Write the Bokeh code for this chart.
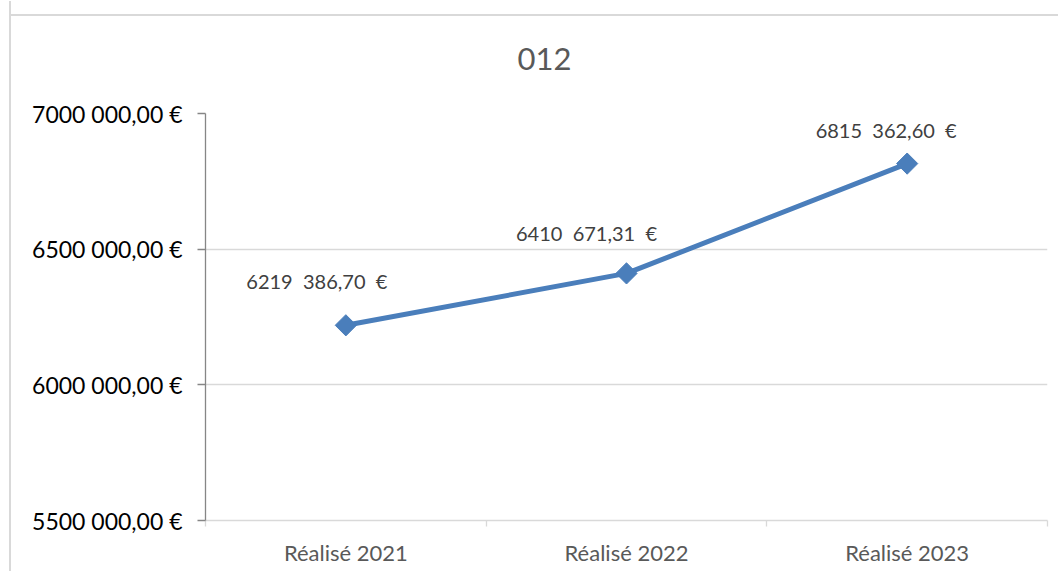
import math
from bokeh.plotting import figure
from bokeh.models import ColumnDataSource, FixedTicker, Range1d
from bokeh.embed import file_html
from bokeh.resources import INLINE
from bokeh.core.properties import value

# ---- data ----
categories = ["Réalisé 2021", "Réalisé 2022", "Réalisé 2023"]
values = [6219386.70, 6410671.31, 6815362.60]
y_ticks = [5500000, 6000000, 6500000, 7000000]
y_tick_labels = ["5500 000,00 €", "6000 000,00 €", "6500 000,00 €", "7000 000,00 €"]
title_text = "012"

NB = "\u00a0"

def fmt_label(v):
    s = f"{v:,.2f}"
    ip, dp = s.split(".")
    parts = ip.split(",")
    head = "".join(parts[:-1])
    return f"{head}{NB}{NB}{parts[-1]},{dp}{NB}{NB}€"

labels = [fmt_label(v) for v in values]
x_pos = [i + 0.5 for i in range(len(categories))]
# label screen offsets (style)
lab_dx = [-29, -40, -21]
lab_dy = [-44, -40, -34]

FONT = "Lato"
BLUE = "#4a7ebb"

p = figure(width=1049, height=570, output_backend="svg", toolbar_location=None,
           x_range=Range1d(0, len(categories)), y_range=Range1d(y_ticks[0], y_ticks[-1]),
           min_border_left=194, min_border_right=13, min_border_top=112, min_border_bottom=51,
           title=title_text)
p.outline_line_color = None
p.background_fill_color = "white"
p.border_fill_alpha = 0
p.styles = {"border-left": "2px solid #d9d9d9",
            "background": "#ffffff linear-gradient(#d9d9d9, #d9d9d9) 0px 13px / 100% 2px no-repeat",
            "margin-top": "1px", "margin-left": "9px"}

p.title.align = "left"
p.title.vertical_align = "top"
p.title.offset = 312
p.title.standoff = 84
p.title.text_font = FONT
p.title.text_font_style = "normal"
p.title.text_font_size = "31px"
p.title.text_color = "#595959"

# grid
p.xgrid.grid_line_color = None
p.ygrid.grid_line_color = "#d9d9d9"
p.ygrid.grid_line_width = 1.3
p.ygrid.ticker = FixedTicker(ticks=y_ticks)

# y axis
p.yaxis.ticker = FixedTicker(ticks=y_ticks)
p.yaxis.major_label_overrides = {t: l for t, l in zip(y_ticks, y_tick_labels)}
p.yaxis.axis_line_color = "#868686"
p.yaxis.axis_line_width = 1.3
p.yaxis.major_tick_line_color = "#868686"
p.yaxis.major_tick_line_width = 1.3
p.yaxis.major_tick_out = 8
p.yaxis.major_tick_in = 0
p.yaxis.minor_tick_line_color = None
p.yaxis.major_label_text_font = FONT
p.yaxis.major_label_text_font_size = "23px"
p.yaxis.major_label_text_color = "#000000"
p.yaxis.major_label_standoff = 15

# x axis
p.xaxis.ticker = FixedTicker(ticks=x_pos, minor_ticks=list(range(len(categories) + 1)))
p.xaxis.major_label_overrides = {x: c for x, c in zip(x_pos, categories)}
p.xaxis.axis_line_color = "#d9d9d9"
p.xaxis.axis_line_width = 1.3
p.xaxis.major_tick_line_color = None
p.xaxis.minor_tick_line_color = "#d9d9d9"
p.xaxis.minor_tick_line_width = 1.3
p.xaxis.minor_tick_out = 6
p.xaxis.minor_tick_in = 0
p.xaxis.major_label_text_font = FONT
p.xaxis.major_label_text_font_size = "22px"
p.xaxis.major_label_text_color = "#595959"
p.xaxis.major_label_standoff = 12

src = ColumnDataSource(dict(x=x_pos, y=values, label=labels, dx=lab_dx, dy=lab_dy))
p.line("x", "y", source=src, line_color=BLUE, line_width=5)
p.scatter("x", "y", source=src, marker="square", size=15, angle=math.pi / 4,
          fill_color=BLUE, line_color=BLUE)
p.text("x", "y", text="label", source=src, x_offset="dx", y_offset="dy",
       text_font=value(FONT), text_font_size="20px", text_color="#404040",
       text_align="center", text_baseline="middle")

open("out.html", "w").write(file_html(p, INLINE))
